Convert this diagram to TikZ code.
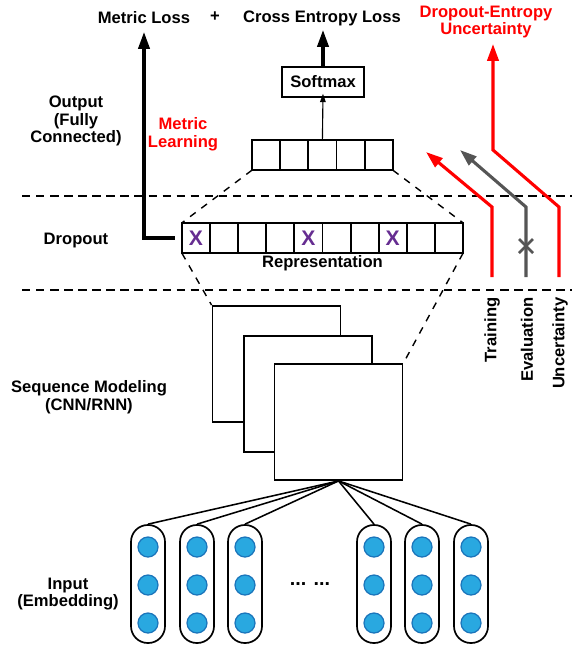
\documentclass[tikz,border=0pt]{standalone}
\usepackage{fontspec}
\setmainfont{Liberation Sans}
\usetikzlibrary{positioning}
\usetikzlibrary{arrows.meta}

\definecolor{dropred}{RGB}{255,0,0}
\definecolor{evalgray}{RGB}{85,85,85}
\definecolor{xpurple}{RGB}{102,45,145}
\definecolor{embfill}{RGB}{41,168,224}
\definecolor{embdraw}{RGB}{27,117,187}

\tikzset{
  lbl/.style={font=\fontsize{11.8}{12.5}\selectfont\bfseries, align=center, inner sep=1pt},
  cell/.style={draw, line width=1.3pt, minimum width=0.705cm, minimum height=0.76cm, inner sep=0pt, outer sep=0pt},
  seqbox/.style={draw, fill=white, line width=1.3pt, minimum width=3.2cm, minimum height=2.9cm},
  pill/.style={draw, line width=1.2pt, rounded corners=0.42cm, minimum width=0.85cm, minimum height=2.95cm},
  emb/.style={circle, draw=embdraw, fill=embfill, line width=0.9pt, minimum size=0.5cm, inner sep=0pt},
  sep/.style={line width=1.4pt, dash pattern=on 6pt off 4pt},
  funnel/.style={line width=1pt, dash pattern=on 5pt off 5pt},
  bigarrow/.style={line width=2.2pt, -{Triangle[length=12pt,width=8pt]}},
  droppath/.style={line width=2.2pt, -{Triangle[length=12pt,width=8pt]}},
  dropx/.style={text=xpurple, font=\fontsize{15}{15}\selectfont\bfseries}
}

\begin{document}
\begin{tikzpicture}[x=0.025cm, y=-0.025cm]
\useasboundingbox (0,0) rectangle (575,646);

% layer separators
\draw[sep] (22,196) -- (572,196);
\draw[sep] (22,290) -- (572,290);

% left labels
\node[lbl] at (76,121) {Output\\(Fully\\Connected)};
\node[lbl] at (76,241) {Dropout};
\node[lbl] at (89,397) {Sequence Modeling\\(CNN/RNN)};
\node[lbl] at (68,594) {Input\\(Embedding)};
\node[lbl, text=dropred] at (183,134) {Metric\\Learning};

% top
\node[lbl] (ml) at (144,18) {Metric Loss};
\node[lbl] at (215,17) {+};
\node[lbl] (ce) at (322,18) {Cross Entropy Loss};
\node[lbl, text=dropred] (de) at (486,22) {Dropout-Entropy\\Uncertainty};
\node[lbl, draw, line width=1.3pt, minimum width=2.05cm, minimum height=0.75cm] (softmax) at (323,82) {Softmax};

% fully connected layer
\node[cell] (fc1) at (266,155) {};
\foreach \i [count=\j from 2] in {1,...,4}
  \node[cell, right=0pt of fc\i] (fc\j) {};

% representation with dropout
\node[cell, minimum width=0.7025cm] (rep1) at (196,238) {};
\foreach \i [count=\j from 2] in {1,...,9}
  \node[cell, minimum width=0.7025cm, right=0pt of rep\i] (rep\j) {};
\foreach \i in {1,5,8}
  \node[dropx] at (rep\i) {X};
\node[lbl, below=0.5pt of rep5.south east] (replbl) {Representation};

% sequence modeling
\node[seqbox] (seq1) at (276.5,364) {};
\node[seqbox] (seq2) at (308,394) {};
\node[seqbox] (seq3) at (338.5,422) {};

% funnels
\draw[funnel] (fc1.south west) -- (rep1.north west);
\draw[funnel] (fc5.south east) -- (rep10.north east);
\draw[funnel] (rep1.south west) -- (seq1.north west);
\draw[funnel] (rep10.south east) -- (seq3.north east);

% arrows to losses
\coordinate (mltip) at (144,32);
\coordinate (cetip) at (323,30);
\draw[bigarrow] ([xshift=-5pt]rep1.west) -| (mltip);
\draw[bigarrow] (softmax.north) -- (cetip);
\draw[line width=0.8pt, -{Triangle[length=6pt,width=4pt]}] (fc3.north) -- ([yshift=3pt]softmax.south);

% embeddings
\foreach \x [count=\i] in {148,197,245,374,422,471} {
  \node[pill] (w\i) at (\x,584) {};
  \foreach \y in {547,585,623}
    \node[emb] at (\x,\y) {};
  \draw[line width=1.1pt] (seq3.south) -- (w\i.north);
}
\node[font=\fontsize{14}{14}\selectfont\bfseries] (dots) at (310,584) {... ...};

% training / evaluation / uncertainty
\coordinate (tr0) at (492,277); \coordinate (tr1) at (492,207); \coordinate (tr2) at (426,152);
\coordinate (ev0) at (526,277); \coordinate (ev1) at (526,207); \coordinate (ev2) at (460,150);
\coordinate (un0) at (559,277); \coordinate (un1) at (559,207); \coordinate (un2) at (493,150);
\coordinate (un3) at (493,44);
\draw[droppath, dropred] (tr0) -- (tr1) -- (tr2);
\draw[droppath, evalgray] (ev0) -- (ev1) -- (ev2);
\draw[droppath, dropred] (un0) -- (un1) -- (un2) -- (un3);
\draw[evalgray, line width=2pt] (519,239) -- (533,253) (519,253) -- (533,239);

\node[lbl, rotate=90, anchor=east] (trlbl) at (492,296) {Training};
\node[lbl, rotate=90, anchor=east] (evlbl) at (527,296) {Evaluation};
\node[lbl, rotate=90, anchor=east] (unlbl) at (560,296) {Uncertainty};
\end{tikzpicture}
\end{document}
